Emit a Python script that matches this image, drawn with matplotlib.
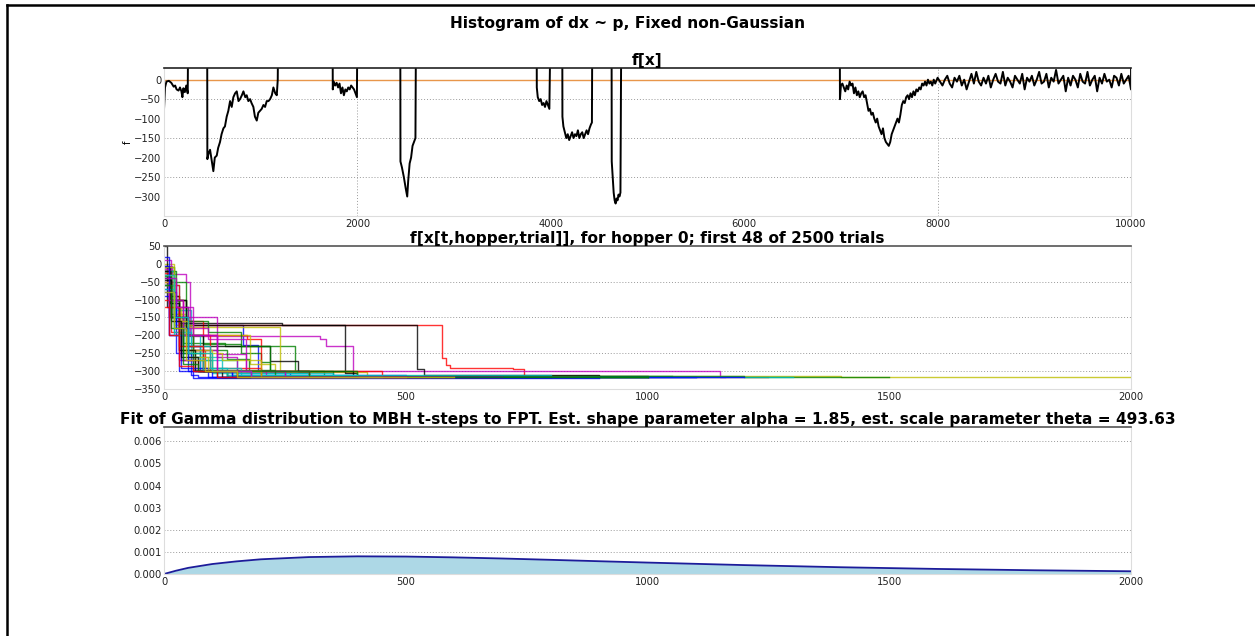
import numpy as np
import matplotlib
matplotlib.use("Agg")
import matplotlib.pyplot as plt
from matplotlib.lines import Line2D

plt.rcParams['font.family'] = 'DejaVu Sans'
plt.rcParams['font.size'] = 7.2

# ---- data: f[x] landscape, segments (gaps go off the top of the plot) ----
GAP = 200
seg_x = [
    [0, 10, 25, 50, 75, 100, 115, 130, 150, 165, 180, 190, 200, 215, 230, 245],
    [448, 460, 476, 495, 510, 525, 545, 560, 579, 595, 614, 630, 648, 665, 683, 700,
     717, 735, 752, 770, 786, 805, 821, 840, 855, 872, 890, 905, 924, 940, 959, 975,
     993, 1010, 1028, 1045, 1062, 1080, 1097, 1115, 1131, 1150, 1166, 1176],
    [1745, 1755, 1770, 1785, 1800, 1815, 1830, 1845, 1860, 1875, 1890, 1905, 1920,
     1935, 1950, 1965, 1980, 1995],
    [2445, 2460, 2480, 2500, 2515, 2525, 2540, 2555, 2570, 2585, 2600],
    [3855, 3865, 3880, 3895, 3910, 3925, 3940, 3955, 3970, 3985],
    [4120, 4130, 4145, 4160, 4175, 4190, 4205, 4220, 4235, 4250, 4265, 4280, 4295,
     4310, 4325, 4340, 4355, 4370, 4385, 4400, 4415, 4425],
    [4630, 4640, 4650, 4660, 4670, 4680, 4690, 4700, 4710, 4720],
    [6990, 7000, 7015, 7030, 7045, 7060, 7075, 7090, 7105, 7120, 7135, 7150, 7165,
     7180, 7195, 7210, 7225, 7240, 7255, 7270, 7285, 7300, 7315, 7330, 7345, 7360,
     7375, 7390, 7405, 7420, 7435, 7450, 7465, 7480, 7495, 7510, 7525, 7540, 7555,
     7570, 7585, 7600, 7615, 7630, 7645, 7660, 7675, 7690, 7705, 7720, 7735, 7750,
     7765, 7780, 7795, 7810, 7825, 7840, 7855, 7870, 7885, 7900, 7915, 7930, 7945, 7960],
]
seg_y = [
    [-75, -20, -5, -3, -8, -18, -15, -25, -28, -20, -30, -45, -22, -32, -15, -35],
    [-204, -190, -180, -210, -235, -200, -195, -175, -160, -140, -125, -120, -95, -80,
     -55, -70, -45, -35, -30, -55, -50, -40, -30, -45, -40, -55, -50, -60, -70, -95,
     -105, -85, -80, -75, -65, -70, -55, -55, -50, -40, -20, -35, -40, 0],
    [-25, -5, -15, -8, -20, -10, -35, -20, -40, -25, -30, -20, -25, -15, -20, -25, -35, -45],
    [-210, -225, -250, -280, -300, -260, -215, -200, -170, -160, -150],
    [-20, -45, -55, -50, -65, -60, -70, -55, -65, -75],
    [-95, -120, -135, -150, -140, -155, -145, -135, -150, -140, -145, -130, -150, -140,
     -135, -150, -140, -130, -140, -125, -115, -110],
    [-210, -250, -290, -310, -318, -305, -310, -295, -300, -290],
    [-50, -15, -10, -20, -30, -15, -25, -5, -15, -10, -35, -20, -40, -30, -45, -35, -30,
     -45, -40, -60, -80, -75, -90, -85, -100, -110, -100, -120, -130, -140, -125, -150,
     -160, -165, -170, -160, -140, -130, -120, -110, -100, -110, -90, -65, -55, -60, -45,
     -40, -50, -35, -45, -30, -40, -25, -30, -20, -25, -10, -15, -5, -15, 0, -10, -5, -15, 0],
]
seg_end = [252, 1183, 2000, 2607, 4000, 4430, 4730, None]

# noisy tail 7975..10000
tail_y = [-10, 5, -5, -15, 0, 10, -10, -20, 5, -5, 10, -15, 0, -25, -5, 15, -10, 20, -5,
          -15, 5, -10, 10, -20, 0, 15, -5, -10, 20, -15, 5, -5, -20, 10, 0, -10, 15, -25,
          5, -5, 10, -15, 0, 20, -10, -5, 15, -20, 5, -5, 25, -10, 0, 10, -30, 5, -15, 10,
          0, -20, 15, -5, -10, 20, -15, 0, 10, -30, 5, -10, 15, -5, 0, -20, 10, 5, -15, 15,
          -10, 0, 10, -25]
tail_x = np.linspace(7975, 10000, len(tail_y))

# ---- data: best-so-far f for 48 trials (t, value) step breakpoints ----
trials = [
    [(0, -20), (10, -110), (25, -172), (163, -226), (195, -300), (260, -316), (1100, -316)],
    [(0, -40), (15, -140), (40, -220), (126, -229), (270, -300), (330, -315), (900, -315)],
    [(0, -10), (12, -100), (40, -160), (60, -172), (575, -262), (583, -282), (592, -290),
     (722, -295), (745, -316), (1250, -316)],
    [(0, -5), (8, -60), (30, -130), (55, -260), (120, -300), (250, -316), (600, -316)],
    [(0, -5), (16, -29), (46, -50), (54, -203), (323, -210), (335, -231), (390, -300),
     (1150, -316), (1160, -316)],
    [(0, 0), (20, -100), (45, -178), (240, -303), (420, -313), (1400, -316), (2000, -316)],
    [(0, 50), (7, -120), (30, -165), (245, -172), (375, -305), (400, -313), (1000, -316)],
    [(0, -30), (10, -150), (30, -200), (60, -300), (90, -317), (1100, -317)],
    [(0, -20), (20, -120), (50, -200), (80, -225), (160, -250), (200, -275), (220, -300),
     (350, -315), (1050, -315)],
    [(0, -50), (20, -150), (50, -160), (80, -198), (171, -210), (200, -300), (300, -316), (800, -316)],
    [(0, -60), (15, -150), (40, -270), (100, -305), (300, -316), (700, -316)],
    [(0, 10), (15, -100), (40, -150), (109, -251), (169, -300), (250, -316), (650, -316)],
    [(0, -20), (10, -90), (30, -200), (177, -280), (230, -300), (400, -316), (750, -316)],
    [(0, -10), (12, -90), (30, -172), (524, -294), (537, -310), (900, -316), (1000, -316)],
    [(0, -80), (15, -150), (40, -230), (75, -300), (140, -310), (500, -316)],
    [(0, -20), (25, -100), (45, -240), (130, -265), (175, -300), (300, -314), (1000, -314),
     (1200, -316), (1500, -316)],
    [(0, -10), (10, -60), (30, -240), (85, -290), (200, -300), (450, -316), (850, -316)],
    [(0, -20), (20, -180), (50, -270), (150, -305), (350, -316), (1300, -316)],
    [(0, -50), (25, -160), (60, -240), (110, -260), (150, -300), (210, -316), (600, -316)],
    [(0, -60), (20, -140), (45, -250), (120, -270), (200, -300), (300, -316), (900, -316)],
    [(0, -30), (15, -150), (50, -230), (220, -273), (278, -300), (390, -316), (800, -316)],
    [(0, 20), (10, -100), (25, -250), (55, -310), (70, -317), (1200, -317)],
    [(0, -10), (20, -50), (45, -160), (90, -190), (160, -230), (220, -300), (400, -316), (1000, -316)],
    [(0, -60), (20, -150), (40, -200), (95, -300), (130, -316), (450, -316)],
    [(0, -40), (20, -130), (45, -200), (75, -290), (130, -310), (400, -316)],
    [(0, -20), (15, -120), (50, -180), (90, -210), (170, -300), (300, -316), (700, -316)],
    [(0, -10), (20, -170), (60, -240), (100, -300), (200, -316), (600, -316)],
    [(0, -40), (15, -100), (45, -200), (80, -300), (150, -316), (500, -316)],
    [(0, -70), (10, -200), (30, -300), (60, -318), (900, -318)],
    [(0, -20), (15, -100), (30, -200), (60, -298), (230, -316), (650, -316)],
    [(0, -100), (15, -190), (35, -270), (70, -300), (150, -316), (500, -316)],
    [(0, -60), (20, -190), (55, -230), (95, -290), (160, -312), (800, -312)],
    [(0, -30), (10, -150), (30, -270), (65, -300), (180, -316), (600, -316)],
    [(0, -50), (15, -120), (35, -240), (65, -300), (150, -316), (400, -316)],
    [(0, -20), (12, -110), (30, -240), (65, -300), (120, -316), (350, -316)],
    [(0, -90), (10, -200), (35, -290), (90, -300), (140, -316), (600, -316)],
    [(0, -35), (15, -150), (40, -250), (80, -300), (130, -316), (500, -316)],
    [(0, -25), (10, -120), (30, -230), (80, -300), (200, -316), (700, -316)],
    [(0, -70), (20, -200), (50, -260), (80, -300), (130, -316), (300, -316)],
    [(0, -15), (10, -100), (40, -200), (110, -300), (250, -316), (550, -316)],
    [(0, -30), (20, -160), (50, -260), (90, -300), (200, -316), (500, -316)],
    [(0, -45), (15, -160), (35, -260), (70, -300), (110, -316), (400, -316)],
    [(0, -5), (10, -80), (25, -180), (50, -300), (100, -316), (700, -316)],
    [(0, -60), (15, -180), (40, -280), (70, -300), (300, -316), (1000, -316)],
    [(0, -120), (10, -200), (30, -285), (60, -300), (110, -316), (350, -316)],
    [(0, -30), (20, -150), (50, -250), (100, -300), (180, -316), (450, -316)],
    [(0, -40), (25, -120), (60, -200), (110, -300), (180, -316), (500, -316)],
    [(0, -80), (20, -180), (45, -270), (85, -300), (150, -316), (600, -316)],
]
trial_colors = ['b', 'g', 'r', 'c', 'm', 'y', 'k']

# ---- data: fitted gamma density ----
fpt_t = [0, 25, 50, 100, 150, 200, 300, 400, 500, 600, 700, 800, 900, 1000,
         1200, 1400, 1600, 1800, 2000]
fpt_pdf = [0.0, 0.00015, 0.000277, 0.000451, 0.000570, 0.000664, 0.000765, 0.000798,
           0.000788, 0.000751, 0.000700, 0.000640, 0.000577, 0.000516, 0.000402,
           0.000305, 0.000228, 0.000168, 0.000123]

alpha_hat = 1.85
theta_hat = 493.63

# ---- figure ----
fig = plt.figure(figsize=(12.55, 6.36), dpi=100)
fig.add_artist(Line2D([0.0056, 0.0056], [0, 0.9921], color='black', lw=1.8))
fig.add_artist(Line2D([0.0056, 1.0], [0.9921, 0.9921], color='black', lw=1.8))
TFS = 11.1
fig.suptitle('Histogram of dx ~ p, Fixed non-Gaussian', fontsize=TFS, fontweight='bold', y=0.975)

dot = (0, (1, 2))
grid_c = '#9a9a9a'


def style(ax, topcol='#555555'):
    for side in ['left', 'right', 'bottom']:
        ax.spines[side].set_color('#dddddd')
        ax.spines[side].set_linewidth(0.8)
    ax.spines['top'].set_color(topcol)
    ax.spines['top'].set_linewidth(1.2)
    ax.tick_params(length=0, pad=2, labelsize=7.2, colors='#222222')


# top: f[x]
ax1 = fig.add_axes([0.1307, 0.6604, 0.7705, 0.2327])
x_all, y_all = [], []
for xs, ys, end in zip(seg_x, seg_y, seg_end):
    if x_all:
        x_all.append(xs[0] - 2)
        y_all.append(GAP)
    x_all += xs
    y_all += ys
    if end is not None:
        x_all.append(end)
        y_all.append(GAP)
x_all += list(tail_x)
y_all += tail_y
x_all.append(10000)
y_all.append(GAP)
for v in [-50, -150, -250]:
    ax1.axhline(v, color=grid_c, lw=0.7, ls=dot, zorder=0)
for v in [2000, 8000]:
    ax1.axvline(v, color=grid_c, lw=0.7, ls=dot, zorder=0)
ax1.axhline(0, color='#e8964a', lw=1.0)
ax1.plot(x_all, y_all, color='black', lw=1.4)
ax1.set_xlim(0, 10000)
ax1.set_ylim(-350, 30)
ax1.set_xticks([0, 2000, 4000, 6000, 8000, 10000])
ax1.set_yticks([0, -50, -100, -150, -200, -250, -300])
ax1.set_yticklabels(['0', '\u221250', '\u2212100', '\u2212150', '\u2212200', '\u2212250', '\u2212300'])
ax1.set_ylabel('f', fontsize=7, labelpad=0.5)
ax1.set_title('f[x]', fontsize=TFS, fontweight='bold', pad=-1.8)
style(ax1, topcol='#222222')

# middle: trials
ax2 = fig.add_axes([0.1307, 0.3884, 0.7705, 0.2248])
for v in [-50, -150, -250, -300]:
    ax2.axhline(v, color=grid_c, lw=0.7, ls=dot, zorder=0)
for i, tr in enumerate(trials):
    t = [p[0] for p in tr]
    v = [p[1] for p in tr]
    ax2.plot(t, v, drawstyle='steps-post', color=trial_colors[i % 7], lw=1.0, alpha=0.8)
ax2.set_xlim(0, 2000)
ax2.set_ylim(-350, 50)
ax2.set_xticks([0, 500, 1000, 1500, 2000])
ax2.set_yticks([50, 0, -50, -100, -150, -200, -250, -300, -350])
ax2.set_yticklabels(['50', '0', '\u221250', '\u2212100', '\u2212150', '\u2212200',
                     '\u2212250', '\u2212300', '\u2212350'])
ax2.set_title('f[x[t,hopper,trial]], for hopper 0; first 48 of 2500 trials',
              fontsize=TFS, fontweight='bold', pad=-2.0)
style(ax2)

# bottom: gamma fit
ax3 = fig.add_axes([0.1307, 0.0975, 0.7705, 0.2313])
for v in [0.006, 0.002, 0.001]:
    ax3.axhline(v, color=grid_c, lw=0.7, ls=dot, zorder=0)
ax3.fill_between(fpt_t, fpt_pdf, color='lightblue', lw=0)
ax3.plot(fpt_t, fpt_pdf, color='#1c1c9a', lw=1.3)
ax3.set_xlim(0, 2000)
ax3.set_ylim(0, 0.00665)
ax3.set_xticks([0, 500, 1000, 1500, 2000])
ax3.set_yticks([0.0, 0.001, 0.002, 0.003, 0.004, 0.005, 0.006])
ax3.set_yticklabels(['0.000', '0.001', '0.002', '0.003', '0.004', '0.005', '0.006'])
ax3.set_title('Fit of Gamma distribution to MBH t-steps to FPT. Est. shape parameter alpha = %.2f, '
              'est. scale parameter theta = %.2f' % (alpha_hat, theta_hat),
              fontsize=TFS, fontweight='bold', pad=-0.5)
style(ax3)

fig.savefig('out.png', dpi=100)
